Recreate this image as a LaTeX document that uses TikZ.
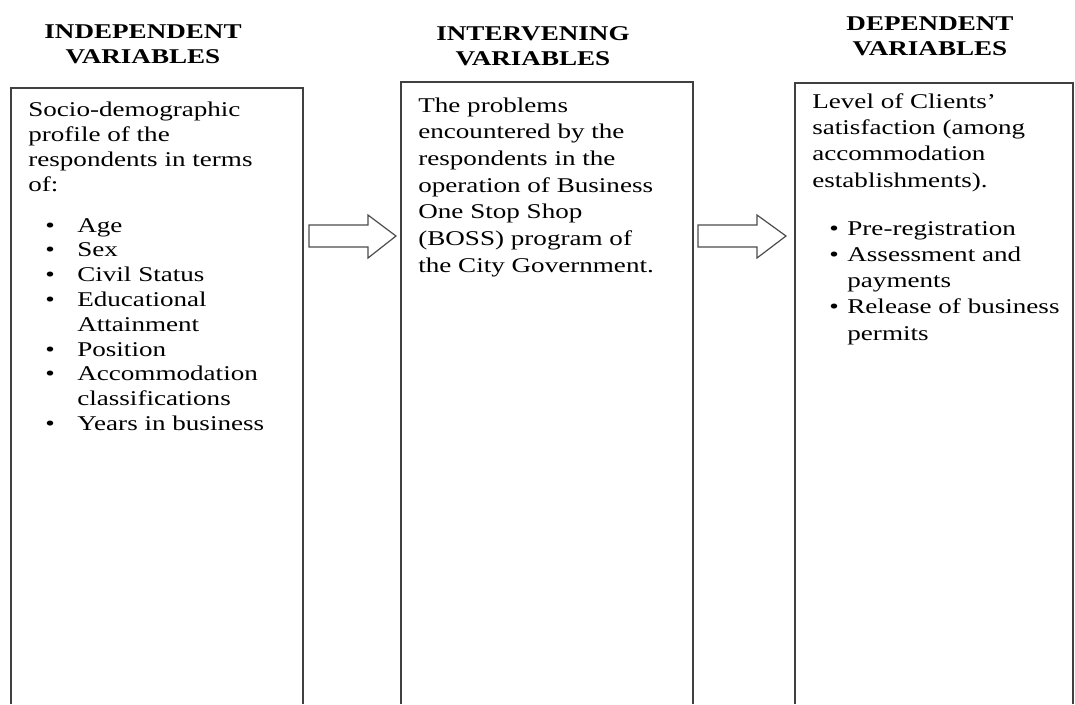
\documentclass[tikz,border=0pt]{standalone}
\usepackage{fontspec}
\setmainfont{Liberation Serif}
\usepackage{tikz}

\begin{document}
\begin{tikzpicture}[x=0.75pt,y=0.75pt,yscale=-1,xscale=1,
  hdr/.style={anchor=base,inner sep=0pt,xscale=1.29,font=\fontsize{15.75pt}{18.75pt}\selectfont\bfseries},
  txt/.style={anchor=base west,inner sep=0pt,xscale=1.29,font=\fontsize{15.75pt}{#1}\selectfont},
  txt/.default=18.75pt,
  boxline/.style={line width=1.2pt,draw=black!75},
  blockarrow/.style={line width=0.9pt,draw=black!70}]
  %set diagram size to 1075 x 704
  \useasboundingbox (0,0) rectangle (1075,704);

  %Shape: Rectangle [open at bottom]
  \draw [boxline] (11,704) -- (11,88) -- (303,88) -- (303,704) ;
  %Shape: Rectangle [open at bottom]
  \draw [boxline] (401,704) -- (401,82) -- (693,82) -- (693,704) ;
  %Shape: Rectangle [open at bottom]
  \draw [boxline] (795,704) -- (795,83) -- (1073,83) -- (1073,704) ;

  %Shape: Right Arrow
  \draw [blockarrow] (309,225) -- (368,225) -- (368,215) -- (396,236) -- (368,258) -- (368,247) -- (309,247) -- cycle ;
  %Shape: Right Arrow
  \draw [blockarrow] (698,225) -- (757,225) -- (757,215) -- (786,236) -- (757,258) -- (757,247) -- (698,247) -- cycle ;

  % Text Node
  \draw (143,38) node [hdr] (indephdr) {\begin{tabular}[t]{@{}c@{}}INDEPENDENT\\VARIABLES\end{tabular}};
  % Text Node
  \draw (533,40) node [hdr] (intervhdr) {\begin{tabular}[t]{@{}c@{}}INTERVENING\\VARIABLES\end{tabular}};
  % Text Node
  \draw (930,30) node [hdr] (dephdr) {\begin{tabular}[t]{@{}c@{}}DEPENDENT\\VARIABLES\end{tabular}};

  % Text Node
  \draw (28,116.7) node [txt] (profile) {\begin{tabular}[t]{@{}l@{}}Socio-demographic\\profile of the\\respondents in terms\\of:\end{tabular}};
  % Text Node
  \draw (45,232) node [txt=18.6pt] (profilelist) {\begin{tabular}[t]{@{}p{18.6pt}@{}l@{}}
    \textbullet & Age\\
    \textbullet & Sex\\
    \textbullet & Civil Status\\
    \textbullet & Educational\\
                & Attainment\\
    \textbullet & Position\\
    \textbullet & Accommodation\\
                & classifications\\
    \textbullet & Years in business
  \end{tabular}};

  % Text Node
  \draw (418,112) node [txt=20pt] (problems) {\begin{tabular}[t]{@{}l@{}}The problems\\encountered by the\\respondents in the\\operation of Business\\One Stop Shop\\(BOSS) program of\\the City Government.\end{tabular}};

  % Text Node
  \draw (812,108) node [txt=19.8pt] (satisf) {\begin{tabular}[t]{@{}l@{}}Level of Clients'\\satisfaction (among\\accommodation\\establishments).\end{tabular}};
  % Text Node
  \draw (829,235) node [txt=19.7pt] (satisflist) {\begin{tabular}[t]{@{}p{10.5pt}@{}l@{}}
    \textbullet & Pre-registration\\
    \textbullet & Assessment and\\
                & payments\\
    \textbullet & Release of business\\
                & permits
  \end{tabular}};

\end{tikzpicture}
\end{document}
